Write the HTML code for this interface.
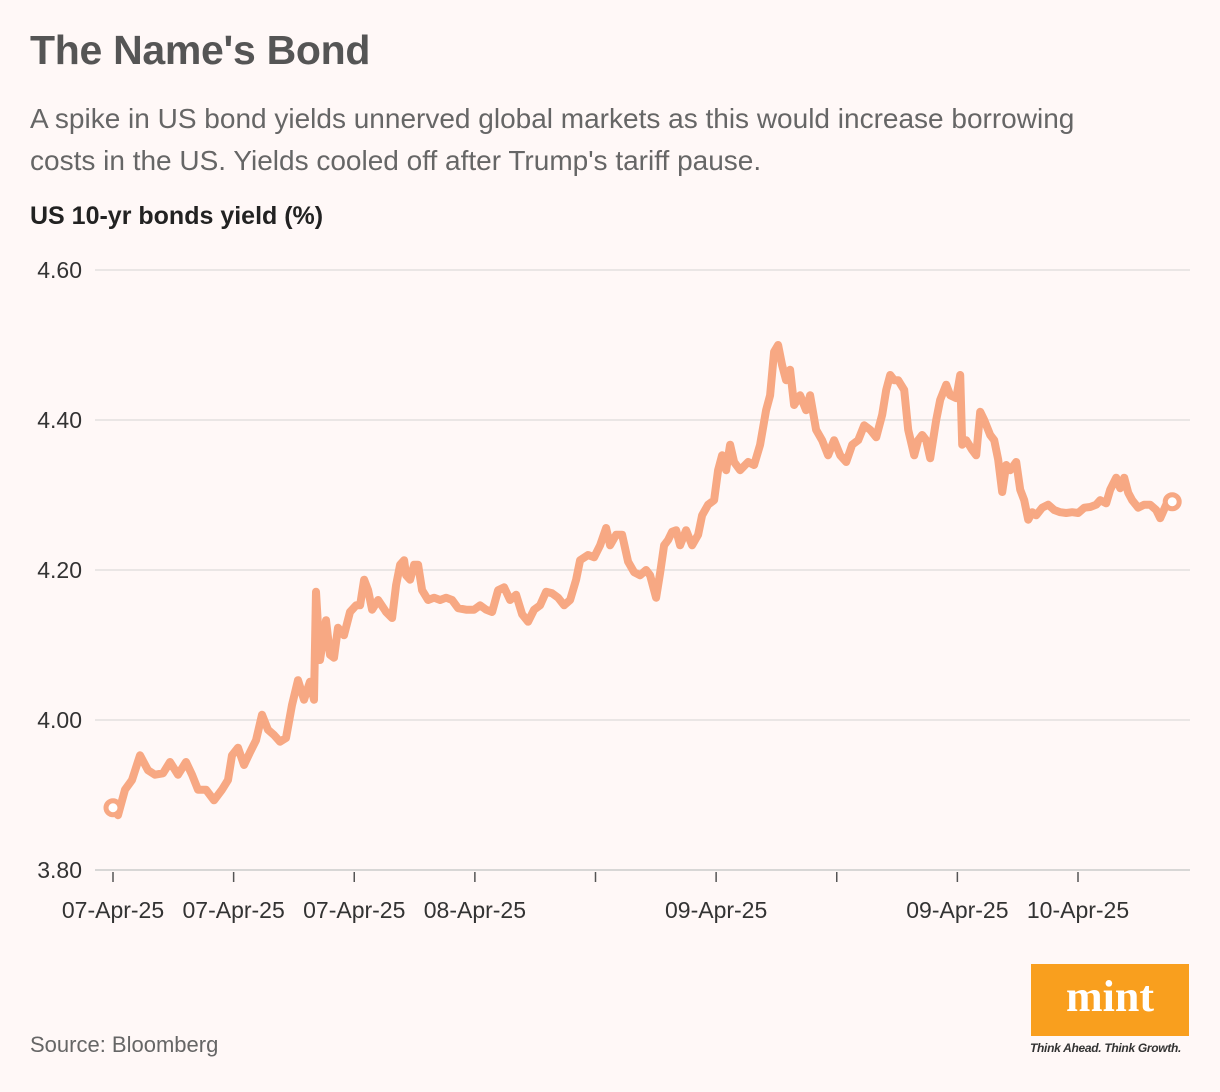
<!DOCTYPE html>
<html><head><meta charset="utf-8">
<style>
html,body{margin:0;padding:0;background:#fff8f7;}
body{width:1220px;height:1092px;position:relative;overflow:hidden;font-family:"Liberation Sans",sans-serif;}
.t{position:absolute;margin:0;}
</style></head><body>
<h1 class="t" style="left:30px;top:27px;font-size:41px;font-weight:bold;color:#555;letter-spacing:-0.3px;">The Name's Bond</h1>
<p class="t" style="left:30px;top:98px;font-size:28px;line-height:42px;color:#666;width:1100px;">A spike in US bond yields unnerved global markets as this would increase borrowing costs in the US. Yields cooled off after Trump's tariff pause.</p>
<div class="t" style="left:30px;top:202px;font-size:25px;font-weight:bold;color:#222;">US 10-yr bonds yield (%)</div>
<svg id="chart" width="1220" height="960" style="position:absolute;left:0;top:0"></svg>
<div class="t" style="left:30px;top:1032px;font-size:22px;color:#666;">Source: Bloomberg</div>
<div class="t" style="left:1031px;top:964px;width:158px;height:72px;background:#f99f1e;color:#fff;font-family:'Liberation Serif',serif;font-weight:bold;font-size:44px;text-align:center;line-height:66px;">mint</div>
<div class="t" style="left:1030px;top:1041px;font-size:12px;font-style:italic;font-weight:bold;color:#333;letter-spacing:-0.3px;">Think Ahead. Think Growth.</div>
<script>
const times=[0,5,12,19,27,35,42,50,57,65,73,79,85,93,101,109,115,119,125,131,137,143,149,155,161,167,173,179,185,191,197,201,203,207,213,217,221,225,231,237,243,247,251,255,259,265,273,279,283,287,291,293,297,301,305,309,315,321,327,333,339,345,353,361,367,373,379,385,391,397,403,409,415,421,427,433,439,445,451,457,463,467,475,481,487,493,497,503,509,515,521,527,533,537,543,547,551,555,559,563,567,573,579,585,589,595,601,605,609,613,617,621,627,635,641,647,653,657,661,665,669,673,677,681,687,693,697,703,709,715,721,727,733,739,745,751,757,763,769,773,777,781,785,791,795,801,805,809,813,817,823,827,833,837,843,847,849,853,859,863,867,871,877,881,885,889,893,897,903,907,911,915,919,923,929,935,941,947,953,959,965,971,977,983,987,993,997,1003,1007,1011,1015,1019,1025,1031,1037,1043,1047,1053,1059];
const yields=[3.883,3.873,3.907,3.920,3.953,3.933,3.927,3.929,3.944,3.927,3.944,3.927,3.907,3.907,3.893,3.907,3.920,3.953,3.963,3.940,3.957,3.973,4.007,3.987,3.980,3.971,3.976,4.020,4.053,4.027,4.051,4.027,4.171,4.080,4.133,4.087,4.083,4.123,4.113,4.144,4.153,4.153,4.187,4.173,4.147,4.160,4.144,4.136,4.180,4.207,4.213,4.193,4.187,4.207,4.207,4.173,4.160,4.163,4.160,4.163,4.160,4.149,4.147,4.147,4.153,4.147,4.144,4.173,4.177,4.160,4.167,4.141,4.131,4.147,4.153,4.171,4.169,4.163,4.153,4.160,4.187,4.213,4.220,4.217,4.233,4.256,4.233,4.247,4.247,4.211,4.197,4.193,4.200,4.193,4.163,4.196,4.233,4.240,4.251,4.253,4.233,4.253,4.233,4.247,4.273,4.287,4.293,4.333,4.353,4.333,4.367,4.344,4.333,4.344,4.340,4.367,4.413,4.433,4.491,4.500,4.473,4.453,4.467,4.420,4.433,4.413,4.433,4.387,4.373,4.353,4.373,4.353,4.344,4.367,4.373,4.393,4.387,4.377,4.407,4.440,4.460,4.453,4.453,4.440,4.387,4.353,4.373,4.380,4.373,4.349,4.400,4.427,4.447,4.433,4.429,4.460,4.367,4.373,4.360,4.353,4.411,4.400,4.380,4.373,4.347,4.304,4.340,4.333,4.344,4.307,4.293,4.267,4.277,4.273,4.283,4.287,4.280,4.277,4.276,4.277,4.276,4.283,4.284,4.287,4.293,4.289,4.307,4.323,4.309,4.323,4.303,4.293,4.283,4.287,4.287,4.280,4.269,4.287,4.291];
const yTicks=[3.80,4.00,4.20,4.40,4.60];
const xTickUnits=[0,120.6,241.2,361.8,482.4,603,723.6,844.2,964.8];
const xTickLabels=["07-Apr-25","07-Apr-25","07-Apr-25","08-Apr-25","","09-Apr-25","","09-Apr-25","10-Apr-25"];
const NS="http://www.w3.org/2000/svg";
const svg=document.getElementById('chart');
const xS=t=>113+t*(965/964.8);
const yS=v=>870-(v-3.8)*750;
function mk(tag,attrs){const e=document.createElementNS(NS,tag);for(const k in attrs)e.setAttribute(k,attrs[k]);svg.appendChild(e);return e;}
yTicks.forEach(v=>{
  const l=mk('line',{x1:95,x2:1190,y1:yS(v),y2:yS(v),stroke:v===3.8?'#ccc':'#e4dfdf','stroke-width':1.5});
  
  
  const tx=mk('text',{x:82,y:yS(v)+8,'text-anchor':'end','font-size':23,fill:'#333','font-family':'Liberation Sans, sans-serif'});
  tx.textContent=v.toFixed(2);
  
  
});
xTickUnits.forEach((u,i)=>{
  const tk=mk('line',{x1:xS(u),x2:xS(u),y1:872,y2:882,stroke:'#555','stroke-width':1.5});
  
  
  if(xTickLabels[i]){
    const tx=mk('text',{x:xS(u),y:918,'text-anchor':'middle','font-size':23,fill:'#333','font-family':'Liberation Sans, sans-serif'});
    tx.textContent=xTickLabels[i];
    
    
  }
});
const n=Math.min(times.length,yields.length);
let d='';
for(let i=0;i<n;i++){d+=(i?'L':'M')+xS(times[i]).toFixed(1)+','+yS(yields[i]).toFixed(1);}
const path=mk('path',{d:d,fill:'none',stroke:'#f7a883','stroke-width':8,'stroke-linejoin':'round','stroke-linecap':'round'});


[0,n-1].forEach(i=>{
  const c=mk('circle',{cx:xS(times[i]),cy:yS(yields[i]),r:7,fill:'#fff','stroke':'#f7a883','stroke-width':5});
  
  
});
</script>
</body></html>
